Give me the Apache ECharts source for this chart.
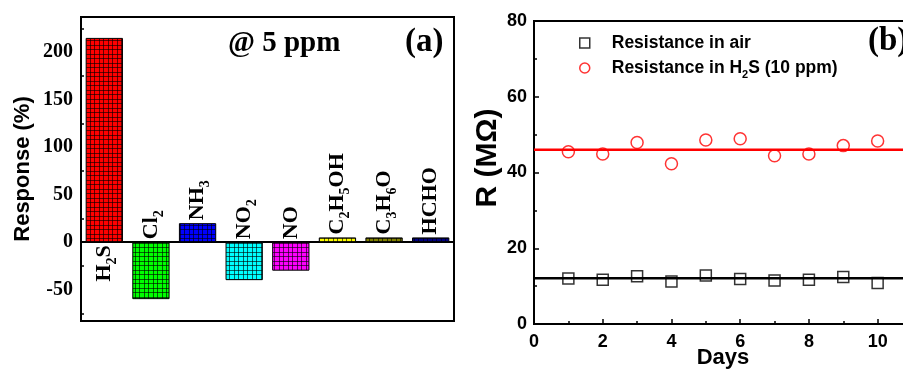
<!DOCTYPE html>
<html><head><meta charset="utf-8">
<script src="https://cdn.jsdelivr.net/npm/echarts@6/dist/echarts.min.js"></script>
<style>html,body{margin:0;padding:0;background:#fff}#c{width:903px;height:370px}</style>
</head><body><div id="c"></div>
<script>
// ---- data ----
const gasNames = ['H2S', 'Cl2', 'NH3', 'NO2', 'NO', 'C2H5OH', 'C3H6O', 'HCHO'];
const gasResponse = [215, -60, 20, -40, -30, 5, 5, 5];
const gasColors = ['#ff0000', '#00ff00', '#0000ff', '#00ffff', '#ff00ff', '#ffff00', '#808000', '#000080'];
const days = [1, 2, 3, 4, 5, 6, 7, 8, 9, 10];
const resAir = [12.0, 11.7, 12.6, 11.2, 12.8, 11.9, 11.5, 11.7, 12.4, 10.8];
const resH2S = [45.5, 44.9, 47.9, 42.3, 48.6, 48.9, 44.4, 44.9, 47.1, 48.3];
const fitAir = 12.1;
const fitH2S = 46.0;
const seriesNames = ['Resistance in air', 'Resistance in H2S (10 ppm)'];

const SERIF = 'Liberation Serif';
const SANS = 'Liberation Sans';

function gridPattern(color) {
  const c = document.createElement('canvas');
  c.width = 9; c.height = 9;
  const g = c.getContext('2d');
  g.fillStyle = color; g.fillRect(0, 0, 9, 9);
  g.fillStyle = 'rgba(0,0,0,0.6)';
  g.fillRect(0, 0, 9, 1); g.fillRect(0, 4, 9, 1);
  g.fillRect(0, 0, 1, 9); g.fillRect(4, 0, 1, 9);
  return { image: c, repeat: 'repeat' };
}

const barData = gasResponse.map((v, i) => {
  const item = { value: v, itemStyle: { color: gridPattern(gasColors[i]) } };
  if (i === 0) item.label = { position: 'bottom', align: 'right' };
  return item;
});

const chart = echarts.init(document.getElementById('c'), null, { renderer: 'canvas' });
chart.setOption({
  animation: false,
  backgroundColor: '#fff',
  grid: [
    { left: 81, top: 17, width: 373, height: 304, show: true, borderColor: '#000', borderWidth: 2, backgroundColor: 'transparent', outerBoundsMode: 'none', containLabel: false },
    { left: 534, top: 21, width: 378, height: 303, show: true, borderColor: '#000', borderWidth: 2, backgroundColor: 'transparent', outerBoundsMode: 'none', containLabel: false }
  ],
  xAxis: [
    { type: 'category', gridIndex: 0, data: gasNames,
      axisLine: { onZero: true, lineStyle: { color: '#000', width: 2 } },
      axisTick: { show: false }, axisLabel: { show: false }, splitLine: { show: false } },
    { type: 'value', gridIndex: 1, min: 0, max: 11, interval: 2,
      name: 'Days', nameLocation: 'middle', nameGap: 23, nameMoveOverlap: false,
      nameTextStyle: { fontFamily: SANS, fontWeight: 'bold', fontSize: 22, color: '#000' },
      axisLine: { onZero: false, lineStyle: { color: '#000', width: 2 } },
      axisTick: { inside: true, length: 5, lineStyle: { color: '#000', width: 1.5 } },
      minorTick: { show: true, splitNumber: 2, length: 3, lineStyle: { color: '#000', width: 1.5 } },
      axisLabel: { margin: 9, showMaxLabel: false, fontFamily: SANS, fontWeight: 'bold', fontSize: 18, color: '#000' },
      splitLine: { show: false } }
  ],
  yAxis: [
    { type: 'value', gridIndex: 0, min: -83, max: 237, splitNumber: 6,
      name: 'Response (%)', nameLocation: 'middle', nameGap: 47,
      nameTextStyle: { fontFamily: SANS, fontWeight: 'bold', fontSize: 22, color: '#000' },
      axisLine: { lineStyle: { color: '#000', width: 2 } },
      axisTick: { inside: true, length: 5, lineStyle: { color: '#000', width: 1.5 } },
      minorTick: { show: true, splitNumber: 2, length: 3, lineStyle: { color: '#000', width: 1.5 } },
      axisLabel: { margin: 8, showMinLabel: false, showMaxLabel: false, fontFamily: SERIF, fontWeight: 'bold', fontSize: 20, color: '#000' },
      splitLine: { show: false } },
    { type: 'value', gridIndex: 1, min: 0, max: 80, interval: 20,
      name: 'R (MΩ)', nameLocation: 'middle', nameGap: 26,
      nameTextStyle: { fontFamily: SANS, fontWeight: 'bold', fontSize: 30, color: '#000', padding: [0, 0, 0, 29] },
      axisLine: { lineStyle: { color: '#000', width: 2 } },
      axisTick: { inside: true, length: 5, lineStyle: { color: '#000', width: 1.5 } },
      minorTick: { show: true, splitNumber: 2, length: 3, lineStyle: { color: '#000', width: 1.5 } },
      axisLabel: { margin: 7, fontFamily: SANS, fontWeight: 'bold', fontSize: 18, color: '#000' },
      splitLine: { show: false } }
  ],
  legend: {
    orient: 'vertical', left: 574, top: 26, itemWidth: 10, itemHeight: 10, itemGap: 1,
    data: [
      { name: seriesNames[0], icon: 'rect', itemStyle: { color: 'rgba(0,0,0,0)', borderColor: '#000', borderWidth: 1.5 } },
      { name: seriesNames[1], icon: 'circle', itemStyle: { color: 'rgba(0,0,0,0)', borderColor: '#ff0000', borderWidth: 1.5 } }
    ],
    formatter: n => n.replace('H2S', 'H{s|2}S'),
    textStyle: { fontFamily: SANS, fontWeight: 'bold', fontSize: 17.5, color: '#000', lineHeight: 24, padding: [0, 0, 0, 17],
      rich: { s: { fontFamily: SANS, fontWeight: 'bold', fontSize: 11, lineHeight: 11, verticalAlign: 'bottom', color: '#000' } } }
  },
  graphic: [
    { type: 'text', left: 228, top: 29, style: { text: '@ 5 ppm', fontFamily: SERIF, fontWeight: 'bold', fontSize: 29, fill: '#000' } },
    { type: 'text', left: 405, top: 26, style: { text: '(a)', fontFamily: SERIF, fontWeight: 'bold', fontSize: 33, fill: '#000' } },
    { type: 'text', left: 868, top: 25, style: { text: '(b)', fontFamily: SERIF, fontWeight: 'bold', fontSize: 33, fill: '#000' } }
  ],
  series: [
    { type: 'bar', xAxisIndex: 0, yAxisIndex: 0, data: barData, barCategoryGap: '20%',
      itemStyle: { borderColor: '#000', borderWidth: 1 },
      label: { show: true, position: 'top', rotate: 90, align: 'left', verticalAlign: 'middle', distance: 3,
        fontFamily: SERIF, fontWeight: 'bold', fontSize: 22, lineHeight: 30, color: '#000',
        formatter: p => p.name.replace(/(\d)/g, '{s|$1}'),
        rich: { s: { fontFamily: SERIF, fontWeight: 'bold', fontSize: 14, lineHeight: 14, verticalAlign: 'bottom', color: '#000' } } } },
    { type: 'line', name: 'fitH2S', xAxisIndex: 1, yAxisIndex: 1, data: [[0, fitH2S], [11, fitH2S]], showSymbol: false,
      lineStyle: { color: '#ff0000', width: 2.5 }, z: 2 },
    { type: 'line', name: 'fitAir', xAxisIndex: 1, yAxisIndex: 1, data: [[0, fitAir], [11, fitAir]], showSymbol: false,
      lineStyle: { color: '#000', width: 2.5 }, z: 2 },
    { type: 'scatter', name: seriesNames[0], xAxisIndex: 1, yAxisIndex: 1, data: days.map((d, i) => [d, resAir[i]]),
      symbol: 'rect', symbolSize: 11, itemStyle: { color: 'rgba(0,0,0,0)', borderColor: '#000', borderWidth: 1.5 }, z: 3 },
    { type: 'scatter', name: seriesNames[1], xAxisIndex: 1, yAxisIndex: 1, data: days.map((d, i) => [d, resH2S[i]]),
      symbol: 'circle', symbolSize: 12, itemStyle: { color: 'rgba(0,0,0,0)', borderColor: '#ff0000', borderWidth: 1.5 }, z: 3 }
  ]
});
</script></body></html>
